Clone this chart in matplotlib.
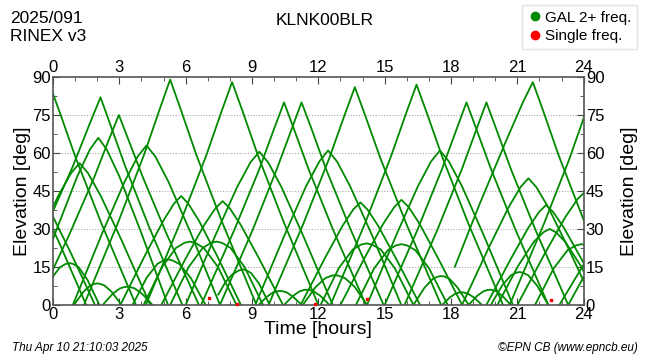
"""Satellite elevation arcs (GAL) over one day for station KLNK00BLR."""

import matplotlib
matplotlib.use("Agg")
import matplotlib.pyplot as plt
from matplotlib.lines import Line2D

plt.rcParams["font.family"] = ["Liberation Sans Narrow", "Liberation Sans", "DejaVu Sans"]

# one list of times [hours] and one of elevations [deg] per satellite pass
arc_times = [
    [-3.9, -2.4, -1.3, -0.6, -0.15, 0.32, 1.02, 2.19, 3.75],
    [-2.0, -0.34, 0.905, 1.65, 2.15, 2.59, 3.26, 4.37, 5.85],
    [-0.75, 0.74, 1.86, 2.53, 2.98, 3.41, 4.07, 5.15, 6.6],
    [-1.1, 0.16, 1.1, 1.67, 2.05, 2.43, 3.0, 3.94, 5.2],
    [0.9, 2.23, 3.23, 3.83, 4.23, 4.63, 5.23, 6.23, 7.55],
    [-2.0, -0.72, 0.24, 0.82, 1.2, 1.58, 2.16, 3.12, 4.4],
    [1.4, 2.96, 4.13, 4.83, 5.3, 5.77, 6.47, 7.64, 9.2],
    [4.2, 5.76, 6.93, 7.63, 8.1, 8.57, 9.27, 10.44, 12.0],
    [3.05, 4.15, 4.98, 5.47, 5.8, 6.12, 6.61, 7.42, 8.5],
    [4.9, 6.01, 6.84, 7.34, 7.67, 8.0, 8.49, 9.31, 10.4],
    [4.1, 4.94, 5.56, 5.94, 6.19, 6.44, 6.82, 7.46, 8.3],
    [5.3, 6.14, 6.77, 7.15, 7.4, 7.65, 8.03, 8.66, 9.5],
    [3.6, 4.24, 4.72, 5.01, 5.2, 5.4, 5.71, 6.22, 6.9],
    [-0.7, -0.12, 0.32, 0.58, 0.75, 0.91, 1.16, 1.56, 2.1],
    [0.95, 1.37, 1.69, 1.87, 2.0, 2.13, 2.33, 2.66, 3.1],
    [2.25, 2.69, 3.02, 3.22, 3.35, 3.49, 3.7, 4.04, 4.5],
    [7.47, 7.8, 8.1, 8.4, 8.6, 8.74, 8.96, 9.32, 9.8],
    [6.7, 8.2, 9.33, 10.0, 10.45, 10.89, 11.56, 12.67, 14.15],
    [7.55, 9.03, 10.12, 10.8, 11.24, 11.69, 12.35, 13.47, 14.95],
    [6.0, 7.33, 8.33, 8.93, 9.33, 9.73, 10.33, 11.32, 12.65],
    [9.15, 10.47, 11.45, 12.05, 12.44, 12.84, 13.43, 14.43, 15.75],
    [9.3, 9.68, 9.97, 10.14, 10.26, 10.38, 10.56, 10.85, 11.25],
    [10.45, 10.86, 11.16, 11.35, 11.47, 11.59, 11.78, 12.09, 12.5],
    [-3.5, -2.42, -1.61, -1.12, -0.8, -0.48, 0.01, 0.82, 1.9],
    [-4.3, -3.14, -2.27, -1.75, -1.4, -1.05, -0.53, 0.34, 1.5],
    [9.75, 11.31, 12.48, 13.18, 13.65, 14.12, 14.82, 15.99, 17.55],
    [12.55, 14.11, 15.27, 15.97, 16.44, 16.91, 17.61, 18.78, 20.35],
    [18.17, 19.3, 20.5, 21.25, 21.7, 22.17, 22.87, 24.04, 25.6],
    [15.0, 16.48, 17.59, 18.26, 18.7, 19.14, 19.81, 20.92, 22.4],
    [15.9, 17.38, 18.49, 19.16, 19.6, 20.04, 20.71, 21.82, 23.3],
    [20.65, 22.19, 23.35, 24.04, 24.5, 24.97, 25.67, 26.84, 28.4],
    [14.2, 15.52, 16.51, 17.1, 17.5, 17.9, 18.49, 19.48, 20.8],
    [18.5, 19.7, 20.6, 21.14, 21.5, 21.86, 22.4, 23.3, 24.5],
    [11.2, 12.28, 13.09, 13.58, 13.9, 14.22, 14.71, 15.52, 16.6],
    [13.0, 14.1, 14.93, 15.43, 15.76, 16.09, 16.58, 17.4, 18.5],
    [19.6, 20.68, 21.49, 21.98, 22.3, 22.62, 23.11, 23.92, 25.0],
    [12.1, 12.93, 13.56, 13.93, 14.18, 14.43, 14.82, 15.45, 16.3],
    [13.7, 14.52, 15.14, 15.51, 15.76, 16.01, 16.39, 17.01, 17.85],
    [20.1, 21.04, 21.75, 22.18, 22.46, 22.74, 23.16, 23.86, 24.8],
    [21.8, 22.64, 23.27, 23.65, 23.9, 24.15, 24.53, 25.16, 26.0],
    [11.3, 11.88, 12.32, 12.58, 12.75, 12.93, 13.2, 13.65, 14.2],
    [16.3, 16.8, 17.18, 17.41, 17.56, 17.71, 17.93, 18.3, 18.8],
    [17.6, 17.95, 18.21, 18.37, 18.47, 18.58, 18.75, 19.03, 19.4],
    [18.8, 19.18, 19.47, 19.64, 19.75, 19.86, 20.04, 20.32, 20.7],
    [19.8, 20.32, 20.71, 20.94, 21.1, 21.26, 21.49, 21.88, 22.4],
    [21.0, 22.24, 23.17, 23.73, 24.1, 24.47, 25.0, 25.9, 27.0],
    [22.9, 24.14, 25.07, 25.63, 26.0],
    [23.3, 24.06, 24.63, 24.97, 25.2],
]
arc_elevs = [
    [0, 32, 58, 76, 87, 75.7, 58.3, 32.2, 0],
    [0, 30.3, 54.9, 71.3, 82, 71.3, 54.9, 30.3, 0],
    [0, 27.8, 50.3, 65.3, 75, 65.3, 50.3, 27.8, 0],
    [0, 29.7, 50.8, 61.4, 66, 61.4, 50.8, 29.7, 0],
    [0, 28.4, 48.5, 58.6, 63, 58.6, 48.5, 28.4, 0],
    [0, 25.2, 43.1, 52.1, 56, 52.1, 43.1, 25.2, 0],
    [0, 32.9, 59.6, 77.4, 89, 77.4, 59.6, 32.9, 0],
    [0, 32.6, 59, 76.6, 88, 76.6, 59, 32.6, 0],
    [0, 19.4, 33.1, 40, 43, 40, 33.1, 19.4, 0],
    [0, 18.5, 31.6, 38.1, 41, 38.1, 31.6, 18.5, 0],
    [0, 15, 22.5, 24.5, 25, 24.5, 22.5, 15, 0],
    [0, 15, 22.5, 24.5, 25, 24.5, 22.5, 15, 0],
    [0, 10.8, 16.2, 17.6, 18, 17.6, 16.2, 10.8, 0],
    [0, 9.9, 14.9, 16.2, 16.5, 16.2, 14.9, 9.9, 0],
    [0, 5.1, 7.7, 8.3, 8.5, 8.3, 7.7, 5.1, 0],
    [0, 4.3, 6.5, 7.05, 7.2, 7.05, 6.5, 4.3, 0],
    [4, 9, 12, 13.6, 14, 13.7, 12.6, 8.4, 0],
    [0, 29.6, 53.6, 69.6, 80, 69.6, 53.6, 29.6, 0],
    [0, 29.6, 53.6, 69.6, 80, 69.6, 53.6, 29.6, 0],
    [0, 27.2, 46.6, 56.3, 60.5, 56.3, 46.6, 27.2, 0],
    [0, 27.5, 47, 56.7, 61, 56.7, 47, 27.5, 0],
    [0, 3.3, 5.0, 5.4, 5.5, 5.4, 5.0, 3.3, 0],
    [0, 3.6, 5.4, 5.9, 6, 5.9, 5.4, 3.6, 0],
    [0, 20.3, 34.7, 41.9, 45, 41.9, 34.7, 20.3, 0],
    [0, 23.4, 40, 48.4, 52, 48.4, 40, 23.4, 0],
    [0, 31.8, 57.6, 74.8, 86, 74.8, 57.6, 31.8, 0],
    [0, 32.2, 58.3, 75.7, 87, 75.7, 58.3, 32.2, 0],
    [15, 40, 65, 80, 88, 76.6, 59, 32.6, 0],
    [0, 29.6, 53.6, 69.6, 80, 69.6, 53.6, 29.6, 0],
    [0, 29.6, 53.6, 69.6, 80, 69.6, 53.6, 29.6, 0],
    [0, 31.8, 57.6, 74.8, 86, 74.8, 57.6, 31.8, 0],
    [0, 27.5, 47, 56.7, 61, 56.7, 47, 27.5, 0],
    [0, 22.5, 38.5, 46.5, 50, 46.5, 38.5, 22.5, 0],
    [0, 18.2, 31.2, 37.7, 40.5, 37.7, 31.2, 18.2, 0],
    [0, 18.7, 32, 38.6, 41.5, 38.6, 32, 18.7, 0],
    [0, 17.8, 30.4, 36.7, 39.5, 36.7, 30.4, 17.8, 0],
    [0, 14.6, 21.9, 23.8, 24.3, 23.8, 21.9, 14.6, 0],
    [0, 14.4, 21.6, 23.5, 24, 23.5, 21.6, 14.4, 0],
    [0, 15.5, 25, 28.7, 30, 28.7, 25, 15.5, 0],
    [0, 14.4, 21.6, 23.5, 24, 23.5, 21.6, 14.4, 0],
    [0, 7.1, 10.6, 11.5, 11.8, 11.5, 10.6, 7.1, 0],
    [0, 6.8, 10.3, 11.2, 11.4, 11.2, 10.3, 6.8, 0],
    [0, 3, 4.5, 4.9, 5, 4.9, 4.5, 3, 0],
    [0, 3.6, 5.4, 5.9, 6, 5.9, 5.4, 3.6, 0],
    [0, 7.8, 11.7, 12.7, 13, 12.7, 11.7, 7.8, 0],
    [0, 20.3, 34.7, 41.9, 45, 41.9, 34.7, 20.3, 0],
    [0, 18, 30.8, 37.2, 40],
    [0, 12, 18, 19.6, 20],
]

# single-frequency observations
single_t = [7.07, 8.3, 11.84, 14.2, 22.5]
single_e = [2.6, 0.4, 0.4, 2.2, 2.0]

x_ticks = [0, 3, 6, 9, 12, 15, 18, 21, 24]
y_ticks = [0, 15, 30, 45, 60, 75, 90]

green = "#008a00"

fig = plt.figure(figsize=(6.5, 3.6), dpi=100)
ax = fig.add_axes([0.0815, 0.153, 0.8165, 0.633])

for t, e in zip(arc_times, arc_elevs):
    ax.plot(t, e, color=green, lw=1.3, solid_capstyle="round")
ax.scatter(single_t, single_e, color="red", s=3, marker="s", zorder=3, clip_on=False)

ax.set_xlim(0, 24)
ax.set_ylim(0, 90)
ax.set_xticks(x_ticks)
ax.set_yticks(y_ticks)
ax.set_xticks(range(25), minor=True)
ax.set_yticks([7.5 * i for i in range(13)], minor=True)
ax.tick_params(which="both", direction="in", top=True, right=True,
               labeltop=True, labelright=True, labelsize=12, pad=1.5, color="#444444")
ax.tick_params(which="major", length=5)
ax.tick_params(which="minor", length=3)
for s in ax.spines.values():
    s.set_color("#555555")
    s.set_linewidth(1.2)

for y in y_ticks[1:-1]:
    ax.axhline(y, color="#aaaaaa", lw=0.8, ls=(0, (1, 1.5)), zorder=0)

ax.set_xlabel("Time [hours]", fontsize=14, labelpad=-1)
fig.text(0.034, 0.47, "Elevation [deg]", rotation=90, fontsize=14, ha="center", va="center")
fig.text(0.968, 0.47, "Elevation [deg]", rotation=90, fontsize=14, ha="center", va="center")

fig.text(0.016, 0.948, "2025/091", fontsize=12.5, va="center")
fig.text(0.016, 0.898, "RINEX v3", fontsize=12.5, va="center")
fig.text(0.5, 0.944, "KLNK00BLR", fontsize=12.5, ha="center", va="center")

fig.text(0.018, 0.033, "Thu Apr 10 21:10:03 2025", fontsize=8.5, style="italic",
         family=["Liberation Sans", "DejaVu Sans"], va="center")
fig.text(0.981, 0.033, "\u00a9EPN CB (www.epncb.eu)", fontsize=8.5, style="italic",
         family=["Liberation Sans", "DejaVu Sans"], ha="right", va="center")

handles = [
    Line2D([], [], ls="", marker="o", color=green, markersize=6),
    Line2D([], [], ls="", marker="o", color="red", markersize=6),
]
fig.legend(handles, ["GAL 2+ freq.", "Single freq."], loc="upper right",
           bbox_to_anchor=(0.98, 0.985), fontsize=11, frameon=True, fancybox=False,
           edgecolor="#dddddd", handletextpad=0.2, borderpad=0.35, labelspacing=0.3,
           handlelength=1.0, borderaxespad=0)

fig.savefig("out.png", dpi=100)
